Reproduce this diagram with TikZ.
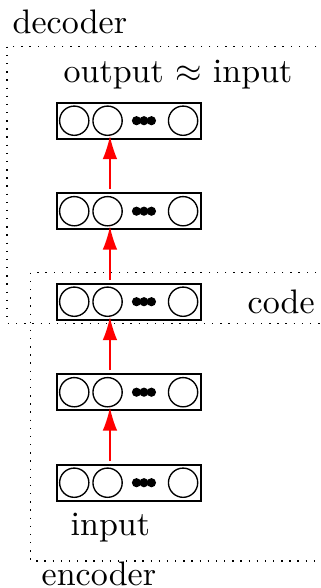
\documentclass[tikz,border=0pt]{standalone}
\usetikzlibrary{positioning,arrows.meta}
\begin{document}
\begin{tikzpicture}[x=0.294pt,y=-0.294pt,
    layerbox/.style={draw,line width=0.5pt,minimum width=42.3pt,minimum height=10.6pt,inner sep=0pt},
    neuron/.style={draw,circle,minimum size=8.6pt,inner sep=0pt},
    txt/.style={inner sep=0pt,anchor=base west},
    arr/.style={red,line width=0.45pt,shorten <=2pt,-{Latex[length=6.8pt,width=4.3pt]}}]
\useasboundingbox (0,0) rectangle (321,588);
\clip (0,0) rectangle (321,588);
% layers, bottom to top
\foreach \i/\y in {1/482.7,2/392.2,3/301.7,4/211.2,5/120.7} {
    \node[layerbox] (l\i) at (129,\y) {};
    \node[neuron,right=0.8pt of l\i.west] (l\i a) {};
    \node[neuron,right=0.8pt of l\i a] (l\i b) {};
    \node[neuron,left=1pt of l\i.east] (l\i c) {};
    \foreach \d in {2.2,4.4,6.6}
        \fill ([xshift=\d pt]l\i.center) circle (1.35pt);
}
\foreach \i/\j in {1/2,2/3,3/4,4/5}
    \draw[arr] ([xshift=0.7pt]l\i b.north) -- ([xshift=0.7pt]l\j b.south);
% decoder and encoder
\draw[dotted] (7,46.7) rectangle (330,323.3);
\draw[dotted] (30.7,272.7) rectangle (330,561);
\node[txt] (dec) at (12,33) {decoder};
\node[txt] (out) at (63,82) {output $\approx$ input};
\node[txt] (code) at (247,313) {code};
\node[txt] (in) at (70,535) {input};
\node[txt] (enc) at (41,585.5) {encoder};
\end{tikzpicture}
\end{document}
